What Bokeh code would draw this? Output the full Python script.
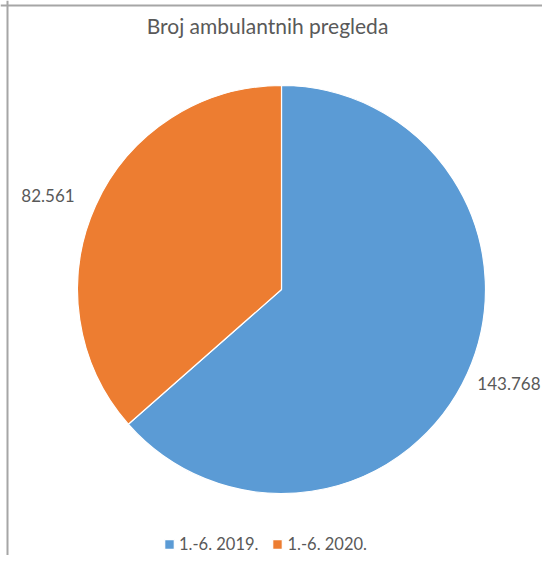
import math
from bokeh.plotting import figure
from bokeh.models import Range1d, Span, Label, Legend, LegendItem
from bokeh.embed import file_html
from bokeh.resources import INLINE

title_text = "Broj ambulantnih pregleda"
categories = ["1.-6. 2019.", "1.-6. 2020."]
values = [143768, 82561]
value_labels = ["143.768", "82.561"]
colors = ["#5B9BD5", "#ED7D31"]

W, H = 542, 555
p = figure(width=W, height=H, output_backend="svg", toolbar_location=None,
           x_range=Range1d(0, W), y_range=Range1d(0, H), min_border=0,
           background_fill_color="white", border_fill_color="white")
p.axis.visible = False
p.grid.visible = False
p.outline_line_color = None

cx, cy, r = 281, H - 289, 204
total = sum(values)
start = math.pi / 2
items = []
for cat, v, lab, col in zip(categories, values, value_labels, colors):
    span = 2 * math.pi * v / total
    end = start - span
    w = p.wedge(x=[cx], y=[cy], radius=r, start_angle=end, end_angle=start,
                fill_color=col, line_color="white", line_width=1.2)
    mid = (start + end) / 2
    lx = cx + (r + 23) * math.cos(mid)
    ly = cy + (r + 23) * math.sin(mid)
    align = "left" if math.cos(mid) > 0 else "right"
    if align == "left" and lx + 9.6 * len(lab) > W:
        lx, align = W - 2, "right"
    p.add_layout(Label(x=lx, y=ly, text=lab, text_align=align, text_baseline="middle",
                       text_font="Lato", text_font_size="17px", text_color="#595959"))
    items.append(LegendItem(label=cat, renderers=[w]))
    start = end

p.add_layout(Label(x=267, y=H - 25, text=title_text, text_align="center", text_baseline="middle",
                   text_font="Lato", text_font_size="21px", text_color="#595959"))

p.add_layout(Span(location=7, dimension="height", line_color="#a6a6a6", line_width=2))
p.add_layout(Span(location=H - 5, dimension="width", line_color="#a6a6a6", line_width=2))

legend = Legend(items=items, orientation="horizontal", location=(163, 1),
                glyph_width=12, glyph_height=12, label_standoff=4, spacing=13,
                padding=0, margin=0, border_line_color=None, background_fill_alpha=0,
                label_text_font="Lato", label_text_font_size="16.5px",
                label_text_color="#595959", label_height=12)
p.add_layout(legend)

open("out.html", "w").write(file_html(p, INLINE))
